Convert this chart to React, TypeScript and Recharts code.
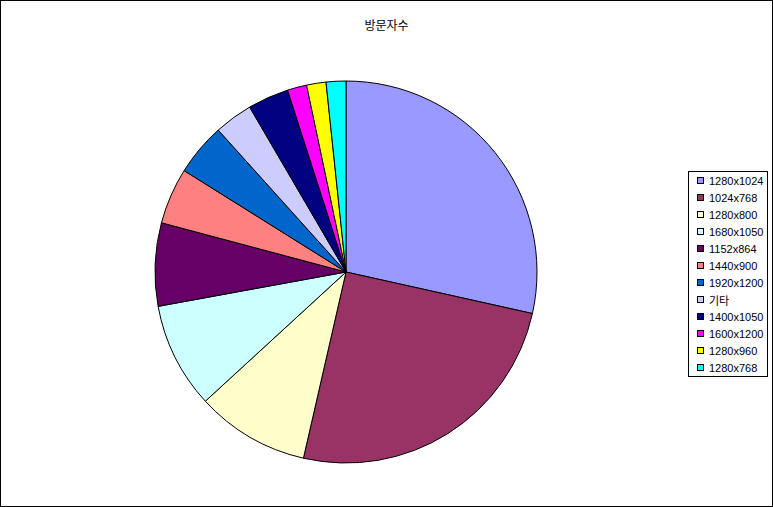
import React from 'react';
import { PieChart, Pie, Cell, Legend } from 'recharts';

const resolutions = [
  '1280x1024', '1024x768', '1280x800', '1680x1050', '1152x864', '1440x900',
  '1920x1200', '기타', '1400x1050', '1600x1200', '1280x960', '1280x768',
];
const visitors = [2850, 2510, 960, 895, 703, 476, 443, 325, 347, 164, 164, 167];
const colors = [
  '#9999FF', '#993366', '#FFFFCC', '#CCFFFF', '#660066', '#FF8080',
  '#0066CC', '#CCCCFF', '#000080', '#FF00FF', '#FFFF00', '#00FFFF',
];

const data = resolutions.map((name, i) => ({ name, value: visitors[i] }));

const font = "'Liberation Sans', Arial, 'Noto Sans CJK KR', sans-serif";

function LegendBox() {
  return (
    <div
      style={{
        border: '1px solid #000',
        background: '#fff',
        width: 80,
        boxSizing: 'border-box',
        paddingTop: 0,
        fontFamily: font,
        fontSize: 11,
        color: '#000',
      }}
    >
      {data.map((d, i) => (
        <div key={d.name} style={{ height: 17, display: 'flex', alignItems: 'center' }}>
          <span
            style={{
              display: 'inline-block',
              width: 5,
              height: 5,
              marginLeft: 8,
              marginRight: 5,
              border: '1px solid #000',
              background: colors[i],
            }}
          />
          <span>{d.name}</span>
        </div>
      ))}
    </div>
  );
}

export default function App() {
  return (
    <div
      style={{
        position: 'absolute',
        left: 0,
        top: 0,
        width: 773,
        height: 507,
        background: '#fff',
      }}
    >
      <PieChart width={773} height={507} margin={{ top: 0, right: 0, bottom: 0, left: 0 }}>
        <Pie
          data={data}
          dataKey="value"
          nameKey="name"
          cx={346}
          cy={272}
          outerRadius={191}
          startAngle={90}
          endAngle={-270}
          stroke="#000"
          strokeWidth={1}
          isAnimationActive={false}
        >
          {data.map((d, i) => (
            <Cell key={d.name} fill={colors[i]} />
          ))}
        </Pie>
        <Legend
          layout="vertical"
          content={() => <LegendBox />}
          wrapperStyle={{ left: 688, top: 171, width: 80 }}
        />
      </PieChart>
      <div
        style={{
          position: 'absolute',
          left: 0,
          top: 16,
          width: 773,
          textAlign: 'center',
          fontFamily: "'Noto Sans CJK KR', sans-serif",
          fontSize: 12,
          color: '#000',
        }}
      >
        방문자수
      </div>
      <div
        style={{
          position: 'absolute',
          left: 0,
          top: 0,
          width: 773,
          height: 507,
          border: '1px solid #000',
          boxSizing: 'border-box',
          pointerEvents: 'none',
        }}
      />
    </div>
  );
}
